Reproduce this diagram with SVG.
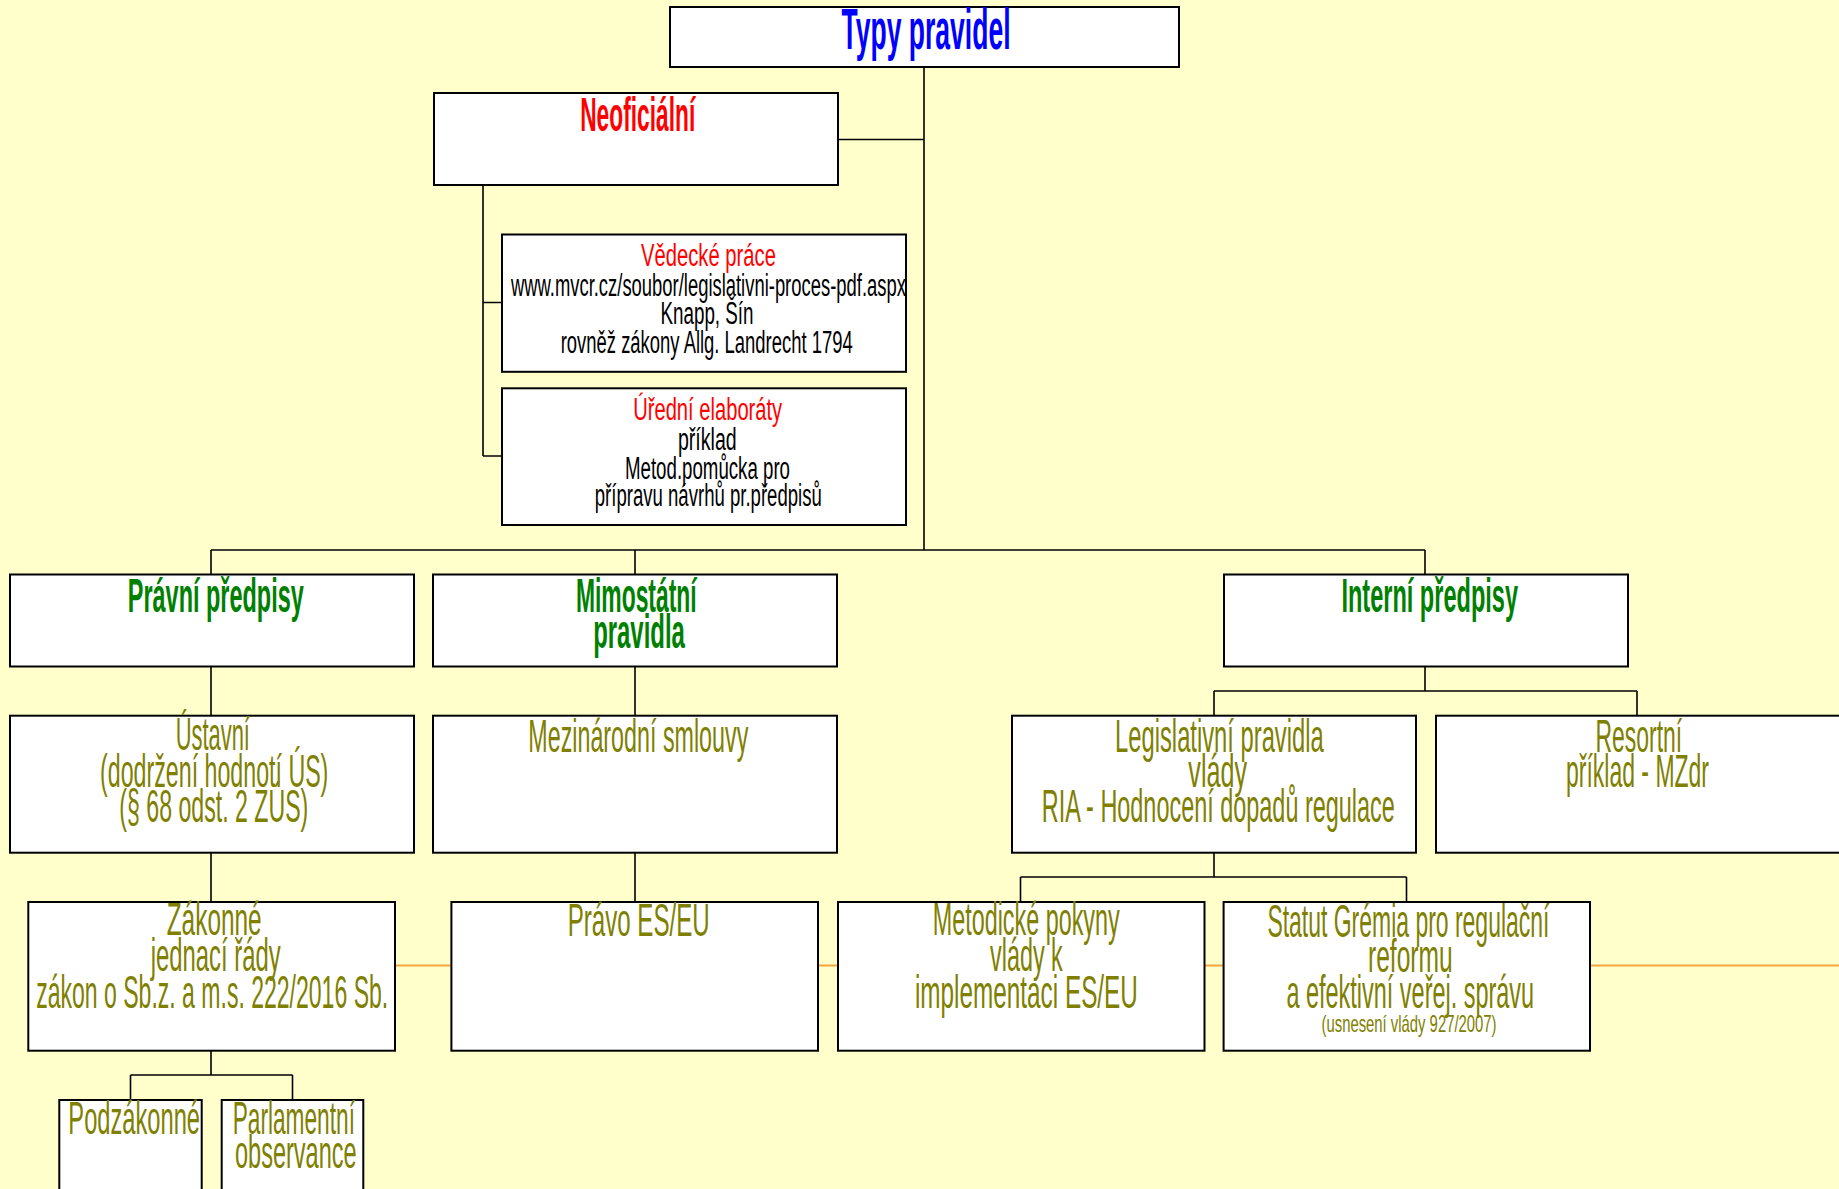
<svg xmlns="http://www.w3.org/2000/svg" width="1839" height="1189" viewBox="0 0 1839 1189">
<style>
.bg{fill:#FFFFCC}
.box{fill:#FFFFFF;stroke:#000000;stroke-width:2}
.con{fill:none;stroke:#000000;stroke-width:1.6}
.orange{fill:none;stroke:#F5A53C;stroke-width:2}
text{font-family:"Liberation Sans",Arial,sans-serif;text-anchor:middle}
.t1{font-size:58px;font-weight:bold;fill:#0000FF}
.t2{font-size:48px;font-weight:bold;fill:#FF0000}
.t3{font-size:48px;font-weight:bold;fill:#008000}
.red{font-size:31px;fill:#FF0000}
.blk{font-size:31px;fill:#000000}
.ol{font-size:46px;fill:#808000}
.ols{font-size:24px;fill:#808000}
</style>
<rect class="bg" x="0" y="0" width="1839" height="1189"/>
<line class="orange" x1="395" y1="965.4" x2="1839" y2="965.4"/>
<g id="connectors">
<path class="con" d="M924 67V550M838 139.5H924"/>
<path class="con" d="M483 185V456M483 302.5H502M483 456H502"/>
<path class="con" d="M211 550H1425M211 550V574.5M635 550V574.5M1425 550V574.5"/>
<path class="con" d="M211 666.5V715.7M635 666.5V715.7M1425 666.5V691M1214 691H1637M1214 691V715.7M1637 691V715.7"/>
<path class="con" d="M211 852.7V902M635 852.7V902M1214 852.7V877M1020.5 877H1406.5M1020.5 877V902M1406.5 877V902"/>
<path class="con" d="M211 1050.7V1075M130.5 1075H292.5M130.5 1075V1100M292.5 1075V1100"/>
</g>
<g id="typy-pravidel">
<rect class="box" x="670" y="7" width="509" height="60"/>
<text class="t1" x="926" y="49" textLength="169" lengthAdjust="spacingAndGlyphs">Typy pravidel</text>
</g>
<g id="neoficialni">
<rect class="box" x="434" y="93" width="404" height="92"/>
<text class="t2" x="637.7" y="131" textLength="115" lengthAdjust="spacingAndGlyphs">Neoficiální</text>
</g>
<g id="vedecke-prace">
<rect class="box" x="502" y="234.5" width="404" height="137.3"/>
<text class="red" x="708.4" y="266" textLength="135" lengthAdjust="spacingAndGlyphs">Vědecké práce</text>
<text class="blk" x="708.4" y="296" textLength="395" lengthAdjust="spacingAndGlyphs">www.mvcr.cz/soubor/legislativni-proces-pdf.aspx</text>
<text class="blk" x="707" y="324" textLength="93" lengthAdjust="spacingAndGlyphs">Knapp, Šín</text>
<text class="blk" x="706.7" y="352.7" textLength="292" lengthAdjust="spacingAndGlyphs">rovněž zákony Allg. Landrecht 1794</text>
</g>
<g id="uredni-elaboraty">
<rect class="box" x="502" y="388.3" width="404" height="136.7"/>
<text class="red" x="707.7" y="420" textLength="149" lengthAdjust="spacingAndGlyphs">Úřední elaboráty</text>
<text class="blk" x="707.3" y="450" textLength="58.7" lengthAdjust="spacingAndGlyphs">příklad</text>
<text class="blk" x="707.5" y="479.3" textLength="165" lengthAdjust="spacingAndGlyphs">Metod.pomůcka pro</text>
<text class="blk" x="708.3" y="506" textLength="227" lengthAdjust="spacingAndGlyphs">přípravu návrhů pr.předpisů</text>
</g>
<g id="pravni-predpisy">
<rect class="box" x="10" y="574.5" width="404" height="92"/>
<text class="t3" x="215.8" y="611.7" textLength="176" lengthAdjust="spacingAndGlyphs">Právní předpisy</text>
</g>
<g id="mimostatni-pravidla">
<rect class="box" x="433" y="574.5" width="404" height="92"/>
<text class="t3" x="636.3" y="611.7" textLength="120.7" lengthAdjust="spacingAndGlyphs">Mimostátní</text>
<text class="t3" x="639" y="648.3" textLength="91.7" lengthAdjust="spacingAndGlyphs">pravidla</text>
</g>
<g id="interni-predpisy">
<rect class="box" x="1224" y="574.5" width="404" height="92"/>
<text class="t3" x="1429.7" y="611.7" textLength="176.6" lengthAdjust="spacingAndGlyphs">Interní předpisy</text>
</g>
<g id="ustavni">
<rect class="box" x="10" y="715.7" width="404" height="137"/>
<text class="ol" x="212.8" y="750" textLength="74.3" lengthAdjust="spacingAndGlyphs">Ústavní</text>
<text class="ol" x="214.2" y="786.7" textLength="228.3" lengthAdjust="spacingAndGlyphs">(dodržení hodnotí ÚS)</text>
<text class="ol" x="213.8" y="821.7" textLength="189" lengthAdjust="spacingAndGlyphs">(§ 68 odst. 2 ZÚS)</text>
</g>
<g id="mezinarodni-smlouvy">
<rect class="box" x="433" y="715.7" width="404" height="137"/>
<text class="ol" x="638.3" y="751.7" textLength="220" lengthAdjust="spacingAndGlyphs">Mezinárodní smlouvy</text>
</g>
<g id="legislativni-pravidla">
<rect class="box" x="1012" y="715.7" width="404" height="137"/>
<text class="ol" x="1219.4" y="751.7" textLength="208.7" lengthAdjust="spacingAndGlyphs">Legislativní pravidla</text>
<text class="ol" x="1217.7" y="786.7" textLength="58.7" lengthAdjust="spacingAndGlyphs">vlády</text>
<text class="ol" x="1218.3" y="821.7" textLength="353" lengthAdjust="spacingAndGlyphs">RIA - Hodnocení dopadů regulace</text>
</g>
<g id="resortni">
<rect class="box" x="1436" y="715.7" width="404" height="137"/>
<text class="ol" x="1638.8" y="751.7" textLength="86.7" lengthAdjust="spacingAndGlyphs">Resortní</text>
<text class="ol" x="1637.5" y="786.7" textLength="143" lengthAdjust="spacingAndGlyphs">příklad - MZdr</text>
</g>
<g id="zakonne">
<rect class="box" x="28.3" y="902" width="366.7" height="148.7"/>
<text class="ol" x="214.2" y="935" textLength="95" lengthAdjust="spacingAndGlyphs">Zákonné</text>
<text class="ol" x="215.7" y="970.7" textLength="130" lengthAdjust="spacingAndGlyphs">jednací řády</text>
<text class="ol" x="212.2" y="1007.7" textLength="352" lengthAdjust="spacingAndGlyphs">zákon o Sb.z. a m.s. 222/2016 Sb.</text>
</g>
<g id="pravo-es-eu">
<rect class="box" x="451.4" y="902" width="366.6" height="148.7"/>
<text class="ol" x="638.7" y="936" textLength="142" lengthAdjust="spacingAndGlyphs">Právo ES/EU</text>
</g>
<g id="metodicke-pokyny">
<rect class="box" x="838" y="902" width="366.5" height="148.7"/>
<text class="ol" x="1026.2" y="935" textLength="187" lengthAdjust="spacingAndGlyphs">Metodické pokyny</text>
<text class="ol" x="1026.4" y="971" textLength="72.7" lengthAdjust="spacingAndGlyphs">vlády k</text>
<text class="ol" x="1026.4" y="1007.7" textLength="223" lengthAdjust="spacingAndGlyphs">implementaci ES/EU</text>
</g>
<g id="statut-gremia">
<rect class="box" x="1223.6" y="902" width="366.4" height="148.7"/>
<text class="ol" x="1408.4" y="936.7" textLength="282" lengthAdjust="spacingAndGlyphs">Statut Grémia pro regulační</text>
<text class="ol" x="1410.3" y="971.7" textLength="84.7" lengthAdjust="spacingAndGlyphs">reformu</text>
<text class="ol" x="1410.3" y="1008.3" textLength="247.7" lengthAdjust="spacingAndGlyphs">a efektivní veřej. správu</text>
<text class="ols" x="1409" y="1031.7" textLength="175" lengthAdjust="spacingAndGlyphs">(usnesení vlády 927/2007)</text>
</g>
<g id="podzakonne">
<rect class="box" x="59.3" y="1100" width="142.4" height="100"/>
<text class="ol" x="134.2" y="1134" textLength="131.7" lengthAdjust="spacingAndGlyphs">Podzákonné</text>
</g>
<g id="parlamentni-observance">
<rect class="box" x="221.7" y="1100" width="141.6" height="100"/>
<text class="ol" x="293.8" y="1134" textLength="122.3" lengthAdjust="spacingAndGlyphs">Parlamentní</text>
<text class="ol" x="295.8" y="1168.3" textLength="121.7" lengthAdjust="spacingAndGlyphs">observance</text>
</g>
</svg>
